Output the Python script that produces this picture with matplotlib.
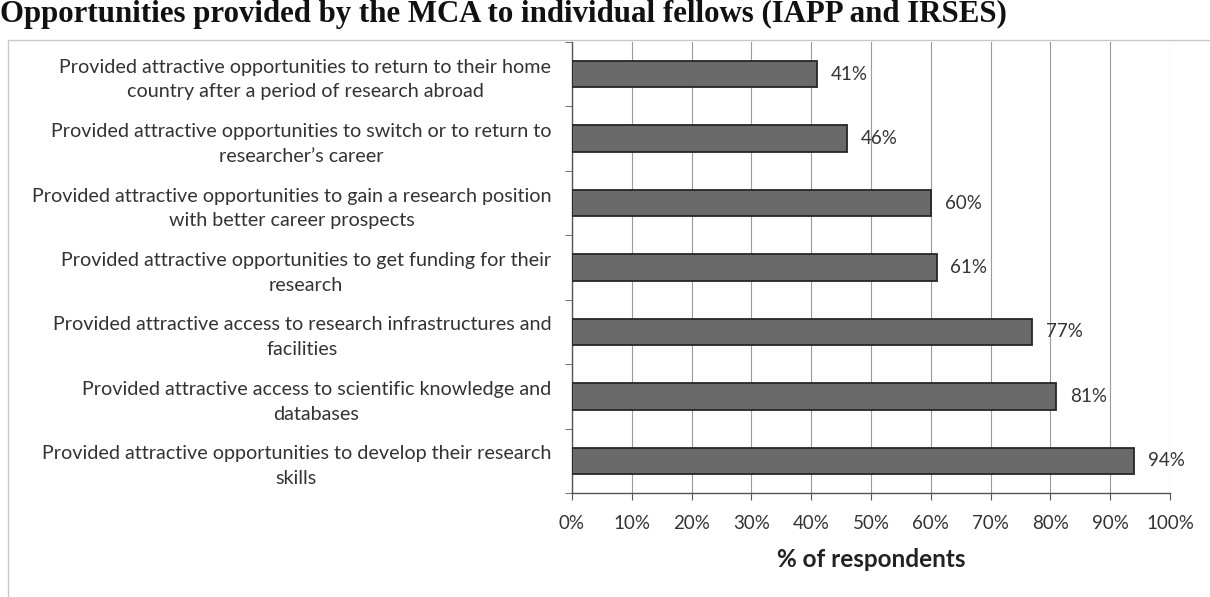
#!/usr/bin/env python3
"""Horizontal bar chart: opportunities provided by the MCA to individual fellows."""

import matplotlib
matplotlib.use("Agg")
import matplotlib.pyplot as plt
from matplotlib.patches import Rectangle
from matplotlib.ticker import MultipleLocator, PercentFormatter

categories = [
    "Provided attractive opportunities to return to their home\ncountry after a period of research abroad",
    "Provided attractive opportunities to switch or to return to\nresearcher\u2019s career",
    "Provided attractive opportunities to gain a research position\nwith better career prospects",
    "Provided attractive opportunities to get funding for their\nresearch",
    "Provided attractive access to research infrastructures and\nfacilities",
    "Provided attractive access to scientific knowledge and\ndatabases",
    "Provided attractive opportunities to develop their research\nskills",
]
values = [41, 46, 60, 61, 77, 81, 94]

title = "Opportunities provided by the MCA to individual fellows (IAPP and IRSES)"
xlabel = "% of respondents"

plt.rcParams["font.family"] = ["Lato", "DejaVu Sans"]

fig = plt.figure(figsize=(12.1, 5.97), dpi=100)
ax = fig.add_axes([0.4727, 0.1742, 0.4942, 0.7554])

ypos = list(range(len(categories)))
ax.barh(ypos, values, height=0.41, color="#6a6a6a", edgecolor="#262626",
        linewidth=1.3, zorder=3)
ax.set_ylim(len(categories) - 0.5, -0.5)
ax.set_xlim(0, 100)

ax.set_yticks(ypos)
ax.set_yticklabels(categories, fontsize=14.2, color="#333333", linespacing=1.55)
for lbl in ax.get_yticklabels():
    lbl.set_multialignment("center")
ax.tick_params(axis="y", length=0, pad=15)
# minor ticks on the y axis mark the category boundaries
ax.set_yticks([i - 0.5 for i in range(len(categories) + 1)], minor=True)
ax.tick_params(axis="y", which="minor", length=5, color="#555555", direction="out")

ax.xaxis.set_major_locator(MultipleLocator(10))
ax.xaxis.set_major_formatter(PercentFormatter(decimals=0))
ax.tick_params(axis="x", length=5, color="#555555", labelsize=13.5,
               labelcolor="#333333", pad=11)
ax.grid(axis="x", color="#9a9a9a", linewidth=0.8, zorder=0)

for s in ("top", "right"):
    ax.spines[s].set_visible(False)
for s in ("left", "bottom"):
    ax.spines[s].set_color("#555555")
    ax.spines[s].set_linewidth(1.0)

for y, v in zip(ypos, values):
    ax.text(v + 2.3, y, f"{v}%", va="center", ha="left", fontsize=13.5,
            color="#333333", zorder=4)

ax.set_xlabel(xlabel, fontsize=17.5, fontweight="bold", color="#222222", labelpad=11)

# light outer frame of the original chart object
fig.patches.append(Rectangle((8 / 1210, -0.1), 1.2, 1 - 40 / 597 + 0.1,
                             transform=fig.transFigure, fill=False,
                             edgecolor="#c8c8c8", linewidth=1.0))

fig.text(0.0, 1 - 22 / 597, title, fontsize=22.2, fontweight="bold",
         family="Liberation Serif", color="#111111", ha="left", va="baseline")

fig.savefig("out.png", dpi=100)
